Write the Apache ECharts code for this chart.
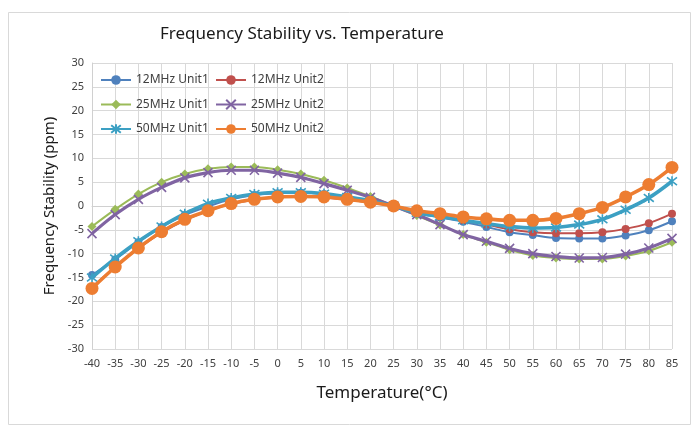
<!DOCTYPE html>
<html><head><meta charset="utf-8">
<script src="https://cdn.jsdelivr.net/npm/echarts@6/dist/echarts.min.js"></script>
<style>html,body{margin:0;padding:0;background:#fff}#c{width:700px;height:436px}</style>
</head><body><div id="c"></div>
<script>
const temps = ['-40','-35','-30','-25','-20','-15','-10','-5','0','5','10','15','20','25','30','35','40','45','50','55','60','65','70','75','80','85'];
const yTicks = [-30, 30, 5];
const names = ['12MHz Unit1','12MHz Unit2','25MHz Unit1','25MHz Unit2','50MHz Unit1','50MHz Unit2'];
const mhz12u1 = [-14.5,-11.2,-7.6,-4.4,-1.9,-0.1,1.4,2.3,2.7,2.8,2.5,1.8,1.0,0,-1.4,-2.4,-3.3,-4.4,-5.5,-6.1,-6.7,-6.8,-6.8,-6.2,-5.1,-3.2];
const mhz12u2 = [-17.0,-12.8,-8.9,-5.6,-3.0,-1.0,0.4,1.3,1.8,2.0,1.8,1.3,0.7,0,-1.2,-2.2,-3.0,-3.9,-4.9,-5.5,-5.7,-5.7,-5.5,-4.8,-3.6,-1.6];
const mhz25u1 = [-4.3,-0.7,2.5,5.0,6.7,7.8,8.2,8.2,7.6,6.7,5.4,3.8,2.0,0,-2.0,-4.0,-6.0,-7.6,-9.2,-10.4,-10.9,-11.1,-11.1,-10.5,-9.4,-7.6];
const mhz25u2 = [-5.8,-1.8,1.4,3.9,5.9,7.0,7.5,7.5,6.9,6.0,4.7,3.3,1.8,0,-1.8,-3.9,-6.0,-7.4,-8.9,-10.0,-10.6,-10.9,-10.8,-10.1,-8.8,-6.8];
const mhz50u1 = [-15.0,-11.0,-7.4,-4.3,-1.6,0.5,1.7,2.5,2.9,2.9,2.6,1.9,1.1,0,-1.4,-2.2,-3.0,-3.7,-4.3,-4.6,-4.5,-3.9,-2.8,-0.8,1.7,5.2];
const mhz50u2 = [-17.3,-12.8,-8.8,-5.4,-2.8,-1.0,0.5,1.4,1.9,2.0,1.9,1.4,0.8,0,-1.0,-1.6,-2.3,-2.7,-3.0,-3.0,-2.6,-1.6,-0.3,1.9,4.5,8.1];

const FONT = 'Noto Sans';
const colors = ['#4F81BD','#C0504D','#9BBB59','#8064A2','#3CA0C3','#ED7D31'];
const crossPath = 'path://M0,0L10,10M10,0L0,10';
const starPath = 'path://M0,0L10,10M10,0L0,10M5,-1.5L5,11.5';
const styles = [
  {symbol:'circle', size:8, width:2, filled:true},
  {symbol:'circle', size:8, width:2, filled:true},
  {symbol:'diamond', size:9, width:2, filled:true},
  {symbol:crossPath, size:9, width:3.2, filled:false},
  {symbol:starPath, size:10, width:3.6, filled:false},
  {symbol:'circle', size:13, width:3.6, filled:true}
];
const dataSets = [mhz12u1, mhz12u2, mhz25u1, mhz25u2, mhz50u1, mhz50u2];

const series = names.map((n, i) => {
  const s = styles[i];
  return {
    name: n, type: 'line', data: dataSets[i], smooth: 0.35,
    symbol: s.symbol, symbolSize: s.size, showAllSymbol: true,
    lineStyle: {color: colors[i], width: s.width},
    itemStyle: s.filled ? {color: colors[i]} : {color: 'rgba(0,0,0,0)', borderColor: colors[i], borderWidth: 1.6},
    emphasis: {disabled: true}, z: 2 + i
  };
});

const legendCommon = {
  orient: 'vertical', itemWidth: 30, itemHeight: 12, itemGap: 12.5, padding: 0,
  textStyle: {fontFamily: FONT, fontSize: 12, color: '#404040'}, selectedMode: false
};

const chart = echarts.init(document.getElementById('c'), null, {renderer: 'canvas'});
chart.setOption({
  animation: false,
  backgroundColor: '#fff',
  color: colors,
  title: {text: 'Frequency Stability vs. Temperature', left: 155, top: 21,
    textStyle: {fontFamily: FONT, fontSize: 17, fontWeight: 'normal', color: '#1a1a1a'}},
  legend: [
    Object.assign({left: 100, top: 74, data: [names[0], names[2], names[4]]}, legendCommon),
    Object.assign({left: 215, top: 74, data: [names[1], names[3], names[5]]}, legendCommon)
  ],
  grid: {left: 92, right: 28, top: 63, bottom: 87, containLabel: false},
  xAxis: {
    type: 'category', data: temps, boundaryGap: false,
    name: 'Temperature(°C)', nameLocation: 'middle', nameGap: 36,
    nameTextStyle: {fontFamily: FONT, fontSize: 17, color: '#1a1a1a'},
    axisLine: {lineStyle: {color: '#d0d0d0'}}, axisTick: {show: false},
    axisLabel: {fontFamily: FONT, fontSize: 11, color: '#404040', margin: 9, interval: 0},
    splitLine: {show: true, lineStyle: {color: '#d9d9d9'}}
  },
  yAxis: {
    type: 'value', min: yTicks[0], max: yTicks[1], interval: yTicks[2],
    name: 'Frequency Stability (ppm)', nameLocation: 'middle', nameGap: 35,
    nameTextStyle: {fontFamily: FONT, fontSize: 15, color: '#1a1a1a'},
    axisLine: {show: true, lineStyle: {color: '#d0d0d0'}}, axisTick: {show: false},
    axisLabel: {fontFamily: FONT, fontSize: 11, color: '#404040', margin: 8},
    splitLine: {show: true, lineStyle: {color: '#d9d9d9'}}
  },
  graphic: [{type: 'rect', shape: {x: 8.5, y: 12.5, width: 682, height: 412}, style: {fill: 'none', stroke: '#d9d9d9', lineWidth: 1}, silent: true, z: -1}],
  series: series
});
</script></body></html>
